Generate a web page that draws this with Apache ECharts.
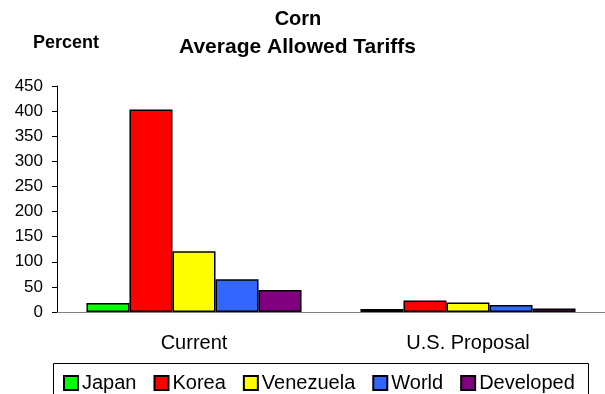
<!DOCTYPE html>
<html>
<head>
<meta charset="utf-8">
<script src="https://cdn.jsdelivr.net/npm/echarts@6/dist/echarts.min.js"></script>
<style>html,body{margin:0;padding:0;background:#fff;}#c{width:605px;height:394px;}</style>
</head>
<body>
<div id="c"></div>
<script>
var categories = ['Current', 'U.S. Proposal'];
var seriesNames = ['Japan', 'Korea', 'Venezuela', 'World', 'Developed'];
var japan = [18, 6];
var korea = [403, 23];
var venezuela = [121, 19];
var world = [65, 14];
var developed = [44, 7];
var yTicks = [0, 50, 100, 150, 200, 250, 300, 350, 400, 450];
var colors = ['#00FF00', '#FF0000', '#FFFF00', '#3366FF', '#800080'];
var titleLines = ['Corn', 'Average Allowed Tariffs'];
var yAxisTitle = 'Percent';

var values = [japan, korea, venezuela, world, developed];
var F = 'Liberation Sans, Arial, sans-serif';
var chart = echarts.init(document.getElementById('c'), null, {renderer: 'canvas'});
var series = seriesNames.map(function (n, i) {
  return {
    name: n, type: 'bar', data: values[i],
    barGap: '0%', barCategoryGap: '21.5%',
    itemStyle: {color: colors[i], borderColor: '#000', borderWidth: 1.5}
  };
});
chart.setOption({
  animation: false,
  textStyle: {fontFamily: F},
  graphic: [
    {type: 'text', x: 298, y: 19, style: {text: titleLines[0], font: 'bold 20px ' + F, fill: '#000', textAlign: 'center', textVerticalAlign: 'middle'}},
    {type: 'text', x: 297.5, y: 47, style: {text: titleLines[1], font: 'bold 21px ' + F, fill: '#000', textAlign: 'center', textVerticalAlign: 'middle'}},
    {type: 'text', x: 33, y: 43, style: {text: yAxisTitle, font: 'bold 18px ' + F, fill: '#000', textAlign: 'left', textVerticalAlign: 'middle'}},
    {type: 'rect', shape: {x: 53.5, y: 363.5, width: 535, height: 40},
     style: {fill: 'none', stroke: '#000', lineWidth: 1}}
  ],
  legend: {
    left: 58, top: 368, itemWidth: 14, itemHeight: 14, itemGap: 17,
    icon: 'rect',
    textStyle: {fontFamily: F, fontSize: 20, color: '#000', padding: [0, 0, 0, -1]},
    data: seriesNames
  },
  grid: {left: 57, right: -2, top: 86, bottom: 82, containLabel: false},
  xAxis: {
    type: 'category', data: categories,
    axisLine: {lineStyle: {color: '#808080', width: 1}},
    axisTick: {show: false},
    axisLabel: {fontFamily: F, fontSize: 20, color: '#000', margin: 21}
  },
  yAxis: {
    type: 'value', min: yTicks[0], max: yTicks[yTicks.length - 1], interval: 50,
    splitLine: {show: false},
    axisLine: {show: true, lineStyle: {color: '#000', width: 1}},
    axisTick: {show: true, length: 5, lineStyle: {color: '#000'}},
    axisLabel: {fontFamily: F, fontSize: 17, color: '#000', margin: 14}
  },
  series: series
});
</script>
</body>
</html>
